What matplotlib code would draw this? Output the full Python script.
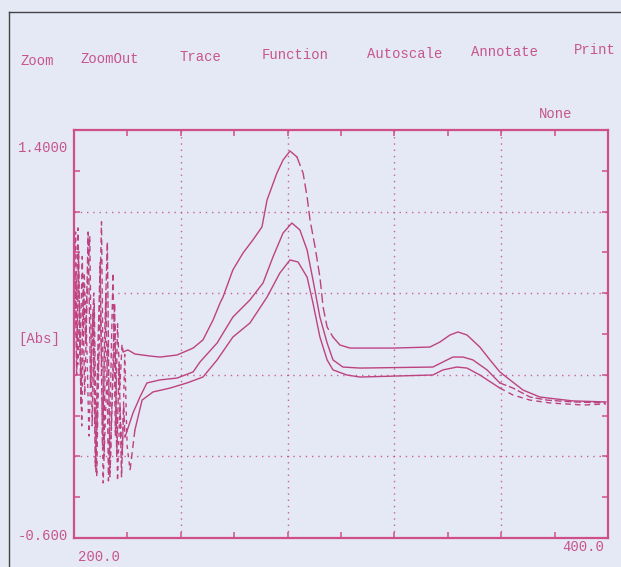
import matplotlib
matplotlib.use("Agg")
import matplotlib.pyplot as plt

# ---------------- data ----------------
menu_items = ["Zoom", "ZoomOut", "Trace", "Function", "Autoscale", "Annotate", "Print"]
y_tick_labels = ["1.4000", "[Abs]", "-0.600"]
x_tick_labels = ["200.0", "400.0"]

# Noisy start (dashed) of each trace, nm / Abs
noiseA_x = [200.2, 200.8, 201.5, 202.3, 203.1, 204.0, 205.0, 205.9, 206.8, 207.6, 208.5,
            209.4, 210.3, 211.2, 212.0, 212.9, 213.8, 214.6, 215.5, 216.3, 217.2, 218.0, 218.4]
noiseA_y = [0.85, 0.45, 0.92, 0.30, 0.78, 0.10, 0.62, 0.88, -0.05, 0.55, -0.30,
            0.40, 0.95, -0.20, 0.60, -0.32, 0.20, 0.70, -0.10, 0.45, 0.15, 0.35, 0.312]
noiseB_x = [200.4, 201.0, 201.7, 202.6, 203.5, 204.4, 205.3, 206.2, 207.1, 208.0, 208.9,
            209.8, 210.7, 211.6, 212.5, 213.4, 214.3, 215.2, 216.0, 216.9, 217.8, 218.6, 219.1]
noiseB_y = [0.70, 0.20, 0.80, 0.05, 0.65, 0.35, 0.90, 0.15, 0.50, -0.25, 0.30,
            0.75, -0.15, 0.45, 0.85, -0.30, 0.10, 0.55, -0.20, 0.25, -0.30, 0.05, -0.105]
noiseC_x = [200.0, 200.6, 201.4, 202.1, 202.9, 203.8, 204.7, 205.6, 206.5, 207.4, 208.2,
            209.1, 210.0, 210.9, 211.8, 212.7, 213.6, 214.5, 215.4, 216.3, 217.2, 218.1, 219.0,
            219.9, 221.0]
noiseC_y = [0.60, 0.90, 0.25, 0.55, -0.05, 0.70, 0.40, -0.10, 0.30, 0.60, -0.28,
            0.20, 0.50, -0.33, 0.00, 0.35, -0.25, 0.15, 0.45, -0.32, 0.05, -0.20, 0.30,
            -0.15, -0.267]

# Trace A (highest)
a_x = [218.4, 220.2, 222.8, 228.5, 232.2, 238.6, 244.6, 248.3, 252.1, 254.7, 255.8, 259.5,
       263.3, 267.0, 270.4, 272.3, 276.0, 278.3, 280.9, 283.5, 285.8, 287.3, 288.4, 290.3,
       292.1, 293.3, 294.8, 297.0, 299.6, 303.4, 319.5, 333.3, 337.1, 340.8, 343.8, 347.2,
       352.0, 355.8, 359.5, 363.3, 368.2, 374.5, 380.9, 386.9, 399.2]
a_y = [0.312, 0.322, 0.302, 0.292, 0.287, 0.297, 0.331, 0.371, 0.469, 0.552, 0.581, 0.714,
       0.797, 0.861, 0.925, 1.057, 1.189, 1.253, 1.297, 1.268, 1.189, 1.072, 0.959, 0.826,
       0.679, 0.532, 0.434, 0.385, 0.346, 0.331, 0.331, 0.336, 0.361, 0.395, 0.410, 0.395,
       0.336, 0.273, 0.214, 0.175, 0.125, 0.091, 0.081, 0.072, 0.067]

# Trace B (middle)
b_x = [219.1, 222.1, 224.7, 227.3, 232.2, 238.6, 244.6, 247.2, 253.6, 259.5, 265.9, 270.8,
       274.5, 278.3, 281.6, 284.6, 287.3, 289.5, 292.1, 294.8, 297.0, 300.7, 307.1, 334.4,
       338.2, 341.9, 345.7, 349.4, 354.7, 359.5, 364.4, 370.8, 377.1, 386.9, 399.2]
b_y = [-0.105, 0.013, 0.091, 0.160, 0.175, 0.184, 0.214, 0.263, 0.356, 0.483, 0.567, 0.650,
       0.777, 0.895, 0.944, 0.910, 0.812, 0.665, 0.483, 0.356, 0.273, 0.238, 0.233, 0.238,
       0.263, 0.287, 0.287, 0.273, 0.224, 0.160, 0.135, 0.091, 0.076, 0.067, 0.062]

# Trace C (lowest)
c_x = [221.0, 222.8, 225.5, 229.6, 236.0, 242.3, 248.3, 253.6, 259.5, 265.9, 272.3, 277.1,
       280.9, 283.9, 287.3, 289.5, 292.1, 294.8, 297.0, 302.2, 307.1, 334.4, 338.2, 343.4,
       347.2, 352.0, 359.5, 364.4, 370.8, 378.3, 390.6, 399.2]
c_y = [-0.267, -0.071, 0.076, 0.116, 0.135, 0.160, 0.189, 0.273, 0.385, 0.454, 0.581, 0.699,
       0.763, 0.753, 0.679, 0.552, 0.385, 0.273, 0.224, 0.199, 0.189, 0.199, 0.224, 0.238,
       0.233, 0.199, 0.135, 0.101, 0.076, 0.062, 0.052, 0.057]

# ---------------- style ----------------
INK = "#bd4380"
FRAME = "#cf4f8a"
TXT = "#c7558d"
BG = "#e5e8f5"
W, H = 621, 567
L, R, T, B = 74, 608, 130, 538

fig = plt.figure(figsize=(W / 100, H / 100), dpi=100, facecolor=BG)
ax = fig.add_axes([L / W, 1 - B / H, (R - L) / W, (B - T) / H])
ax.set_facecolor(BG)
ax.set_xlim(200, 400)
ax.set_ylim(-0.6, 1.4)

for s in ax.spines.values():
    s.set_color(FRAME)
    s.set_linewidth(1.6)

ax.set_xticks([200 + 20 * i for i in range(11)])
ax.set_yticks([-0.6 + 0.2 * i for i in range(11)])
ax.tick_params(direction="in", length=4, width=1.1, color=FRAME,
               top=True, right=True, labelleft=False, labelbottom=False)

for gx in [240, 280, 320, 360]:
    ax.axvline(gx, color=INK, lw=1.0, ls=(0, (1, 3.5)), alpha=0.8)
for gy in [1.0, 0.6, 0.2, -0.2]:
    ax.axhline(gy, color=INK, lw=1.0, ls=(0, (1, 3.5)), alpha=0.8)

lw = 1.0
# noisy dashed beginnings
ax.plot(noiseA_x, noiseA_y, color=INK, lw=1.0, ls=(0, (4, 3)))
ax.plot(noiseB_x, noiseB_y, color=INK, lw=1.0, ls=(0, (5, 2)))
ax.plot(noiseC_x, noiseC_y, color=INK, lw=1.0, ls=(0, (3, 3)))

# trace A: solid, dashed on the falling flank after the peak
ia = a_x.index(283.5)
ja = a_x.index(297.0)
ax.plot(a_x[:ia + 1], a_y[:ia + 1], color=INK, lw=lw)
ax.plot(a_x[ia:ja + 1], a_y[ia:ja + 1], color=INK, lw=lw, ls=(0, (7, 3)))
ax.plot(a_x[ja:], a_y[ja:], color=INK, lw=lw)

# trace B
ib = b_x.index(359.5)
ax.plot(b_x[:ib + 1], b_y[:ib + 1], color=INK, lw=lw)
ax.plot(b_x[ib:], b_y[ib:], color=INK, lw=lw, ls=(0, (5, 2)))

# trace C
ic = c_x.index(359.5)
ax.plot(c_x[:2], c_y[:2], color=INK, lw=lw, ls=(0, (5, 3)))
ax.plot(c_x[1:ic + 1], c_y[1:ic + 1], color=INK, lw=lw)
ax.plot(c_x[ic:], c_y[ic:], color=INK, lw=lw, ls=(0, (4, 3)))

# ---------------- texts ----------------
font = dict(family=["Liberation Mono", "DejaVu Sans Mono"], color=TXT, fontsize=10)
menu_x = [37, 110, 200, 295, 405, 505, 595]
menu_y = [61, 59, 57, 55, 54, 52, 50]
for name, mx, my in zip(menu_items, menu_x, menu_y):
    fig.text(mx / W, 1 - my / H, name, ha="center", va="center", **font)
fig.text(556 / W, 1 - 114 / H, "None", ha="center", va="center", **font)

fig.text(68 / W, 1 - 148 / H, y_tick_labels[0], ha="right", va="center", **font)
fig.text(60 / W, 1 - 339 / H, y_tick_labels[1], ha="right", va="center", **font)
fig.text(68 / W, 1 - 536 / H, y_tick_labels[2], ha="right", va="center", **font)
fig.text(99 / W, 1 - 557 / H, x_tick_labels[0], ha="center", va="center", **font)
fig.text(583 / W, 1 - 547 / H, x_tick_labels[1], ha="center", va="center", **font)

# scanner border
fig.add_artist(plt.Line2D([9 / W, 9 / W], [0, 1 - 12 / H], color="#444444", lw=1.0))
fig.add_artist(plt.Line2D([9 / W, 1], [1 - 12 / H, 1 - 12 / H], color="#444444", lw=1.0))

fig.savefig("out.png", dpi=100, facecolor=BG)
